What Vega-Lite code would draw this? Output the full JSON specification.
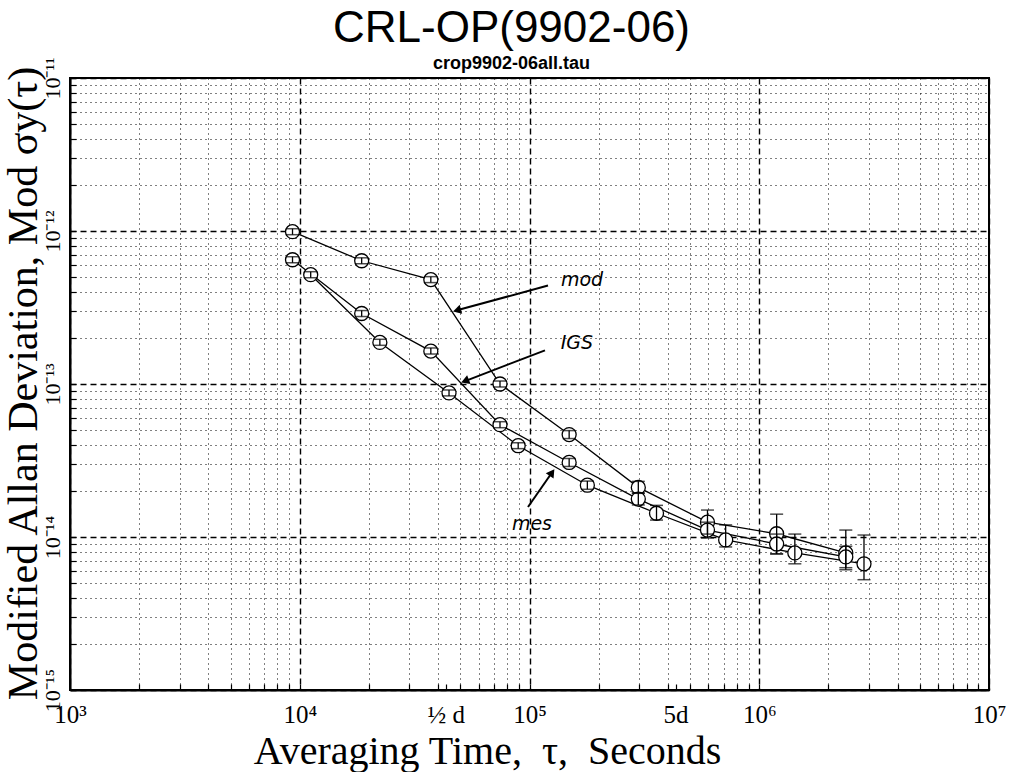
{
  "$schema": "https://vega.github.io/schema/vega-lite/v6.json",
  "width": 919,
  "height": 612,
  "autosize": {"type": "none"},
  "padding": {"left": 70, "top": 78, "right": 23, "bottom": 82},
  "background": "white",
  "title": {
    "text": "CRL-OP(9902-06)",
    "subtitle": "crop9902-06all.tau",
    "anchor": "middle",
    "font": "Liberation Sans",
    "fontSize": 44,
    "fontWeight": "normal",
    "color": "black",
    "subtitleFont": "Liberation Sans",
    "subtitleFontSize": 18,
    "subtitleFontWeight": "bold",
    "subtitleColor": "black",
    "subtitlePadding": 4,
    "offset": -16,
    "dx": -18
  },
  "config": {
    "view": {"stroke": "black", "strokeWidth": 2},
    "font": "Liberation Serif"
  },
  "datasets": {
    "pts": [
      {"series": "mod", "tau": 9300, "sigma": 9.9e-13, "lo": 9.46e-13, "hi": 1.035e-12},
      {"series": "mod", "tau": 18600, "sigma": 6.39e-13, "lo": 6.11e-13, "hi": 6.68e-13},
      {"series": "mod", "tau": 37200, "sigma": 4.81e-13, "lo": 4.6e-13, "hi": 5.03e-13},
      {"series": "mod", "tau": 74400, "sigma": 1.0e-13, "lo": 9.56e-14, "hi": 1.046e-13},
      {"series": "mod", "tau": 148800, "sigma": 4.67e-14, "lo": 4.4e-14, "hi": 4.96e-14},
      {"series": "mod", "tau": 297600, "sigma": 2.11e-14, "lo": 1.93e-14, "hi": 2.31e-14},
      {"series": "mod", "tau": 595200, "sigma": 1.25e-14, "lo": 1.045e-14, "hi": 1.5e-14},
      {"series": "mod", "tau": 1190400, "sigma": 1.05e-14, "lo": 7.76e-15, "hi": 1.41e-14},
      {"series": "mod", "tau": 2380800, "sigma": 7.87e-15, "lo": 6.11e-15, "hi": 1.11e-14},
      {"series": "IGS", "tau": 9300, "sigma": 6.49e-13, "lo": 6.2e-13, "hi": 6.79e-13},
      {"series": "IGS", "tau": 18600, "sigma": 2.89e-13, "lo": 2.76e-13, "hi": 3.02e-13},
      {"series": "IGS", "tau": 37200, "sigma": 1.64e-13, "lo": 1.57e-13, "hi": 1.72e-13},
      {"series": "IGS", "tau": 74400, "sigma": 5.42e-14, "lo": 5.18e-14, "hi": 5.67e-14},
      {"series": "IGS", "tau": 148800, "sigma": 3.07e-14, "lo": 2.89e-14, "hi": 3.26e-14},
      {"series": "IGS", "tau": 297600, "sigma": 1.77e-14, "lo": 1.62e-14, "hi": 1.94e-14},
      {"series": "IGS", "tau": 595200, "sigma": 1.11e-14, "lo": 9.85e-15, "hi": 1.25e-14},
      {"series": "IGS", "tau": 1190400, "sigma": 9.0e-15, "lo": 7.75e-15, "hi": 1.045e-14},
      {"series": "IGS", "tau": 2380800, "sigma": 7.41e-15, "lo": 6.3e-15, "hi": 8.7e-15},
      {"series": "mes", "tau": 11160, "sigma": 5.18e-13, "lo": 4.95e-13, "hi": 5.42e-13},
      {"series": "mes", "tau": 22320, "sigma": 1.87e-13, "lo": 1.79e-13, "hi": 1.96e-13},
      {"series": "mes", "tau": 44640, "sigma": 8.74e-14, "lo": 8.36e-14, "hi": 9.14e-14},
      {"series": "mes", "tau": 89280, "sigma": 3.95e-14, "lo": 3.78e-14, "hi": 4.13e-14},
      {"series": "mes", "tau": 178560, "sigma": 2.18e-14, "lo": 2.05e-14, "hi": 2.32e-14},
      {"series": "mes", "tau": 357120, "sigma": 1.43e-14, "lo": 1.29e-14, "hi": 1.61e-14},
      {"series": "mes", "tau": 714240, "sigma": 9.57e-15, "lo": 8.61e-15, "hi": 1.2e-14},
      {"series": "mes", "tau": 1428480, "sigma": 7.87e-15, "lo": 6.68e-15, "hi": 1.045e-14},
      {"series": "mes", "tau": 2856960, "sigma": 6.68e-15, "lo": 5.26e-15, "hi": 1.03e-14}
    ],
    "notes": [
      {"label": "mod", "tx": 169200, "ty": 4.81e-13, "x1": 120400, "y1": 4.4e-13, "x2": 48340, "y2": 3.03e-13},
      {"label": "IGS", "tx": 160900, "ty": 1.85e-13, "x1": 116800, "y1": 1.66e-13, "x2": 52400, "y2": 1.045e-13},
      {"label": "mes", "tx": 102500, "ty": 1.21e-14, "x1": 98500, "y1": 1.57e-14, "x2": 125300, "y2": 2.64e-14}
    ]
  },
  "layer": [
    {
      "data": {"name": "pts"},
      "mark": {"type": "line", "color": "black", "strokeWidth": 1.3},
      "encoding": {
        "x": {
          "field": "tau", "type": "quantitative",
          "scale": {"type": "log", "domain": [1000, 10000000], "nice": false},
          "axis": {
            "title": "Averaging Time,\u2002τ,\u2002Seconds",
            "titleFont": "Liberation Serif",
            "titleFontSize": 40,
            "titleFontWeight": "normal",
            "titleColor": "black",
            "titleX": 417,
            "titleY": 73,
            "titleAlign": "center",
            "titleBaseline": "alphabetic",
            "values": [1000, 2000, 3000, 4000, 5000, 6000, 7000, 8000, 9000, 10000, 20000, 30000, 40000, 43200, 50000, 60000, 70000, 80000, 90000, 100000, 200000, 300000, 400000, 432000, 500000, 600000, 700000, 800000, 900000, 1000000, 2000000, 3000000, 4000000, 5000000, 6000000, 7000000, 8000000, 9000000, 10000000],
            "labelExpr": "datum.value == 43200 ? '½ d' : datum.value == 432000 ? '5d' : (abs(log(datum.value)/LN10 - round(log(datum.value)/LN10)) < 1e-6 ? '10' + ['⁰','¹','²','³','⁴','⁵','⁶','⁷','⁸','⁹'][round(log(datum.value)/LN10)] : '')",
            "labelFont": "Liberation Serif",
            "labelFontSize": 25,
            "labelColor": "black",
            "labelPadding": 18,
            "labelOverlap": false,
            "labelFlush": false,
            "domainColor": "black",
            "domainWidth": 2,
            "tickColor": "black",
            "tickWidth": 1.2,
            "tickSize": -6,
            "grid": true,
            "gridColor": "black",
            "gridOpacity": {"condition": {"test": "datum.value == 43200 || datum.value == 432000", "value": 0}, "value": 1},
            "gridDash": {"condition": {"test": "abs(log(datum.value)/LN10 - round(log(datum.value)/LN10)) < 1e-6", "value": [6, 4]}, "value": [1, 4]},
            "gridWidth": {"condition": {"test": "abs(log(datum.value)/LN10 - round(log(datum.value)/LN10)) < 1e-6", "value": 1.4}, "value": 1}
          }
        },
        "y": {
          "field": "sigma", "type": "quantitative",
          "scale": {"type": "log", "domain": [1e-15, 1e-11], "nice": false},
          "axis": {
            "title": "Modified Allan Deviation, Mod σy(τ)",
            "titleFont": "Liberation Serif",
            "titleFontSize": 42,
            "titleFontWeight": "normal",
            "titleColor": "black",
            "titleAngle": 270,
            "titleX": -47,
            "titleY": 305,
            "titleAlign": "center",
            "titleBaseline": "middle",
            "values": [1e-15, 2e-15, 3e-15, 4e-15, 5e-15, 6e-15, 7e-15, 8e-15, 9e-15, 1e-14, 2e-14, 3e-14, 4e-14, 5e-14, 6e-14, 7e-14, 8e-14, 9e-14, 1e-13, 2e-13, 3e-13, 4e-13, 5e-13, 6e-13, 7e-13, 8e-13, 9e-13, 1e-12, 2e-12, 3e-12, 4e-12, 5e-12, 6e-12, 7e-12, 8e-12, 9e-12, 1e-11],
            "labelExpr": "abs(log(datum.value)/LN10 - round(log(datum.value)/LN10)) < 1e-6 ? '10⁻¹' + ['⁰','¹','²','³','⁴','⁵'][-round(log(datum.value)/LN10) - 10] : ''",
            "labelFont": "Liberation Serif",
            "labelFontSize": 22,
            "labelColor": "black",
            "labelAngle": 270,
            "labelAlign": "center",
            "labelBaseline": "bottom",
            "labelPadding": 12,
            "labelOverlap": false,
            "labelFlush": false,
            "domainColor": "black",
            "domainWidth": 2,
            "tickColor": "black",
            "tickWidth": 1.2,
            "tickSize": -6,
            "grid": true,
            "gridColor": "black",
            "gridDash": {"condition": {"test": "abs(log(datum.value)/LN10 - round(log(datum.value)/LN10)) < 1e-6", "value": [6, 4]}, "value": [1, 4]},
            "gridWidth": {"condition": {"test": "abs(log(datum.value)/LN10 - round(log(datum.value)/LN10)) < 1e-6", "value": 1.4}, "value": 1}
          }
        },
        "detail": {"field": "series"},
        "order": {"field": "tau", "type": "quantitative"}
      }
    },
    {
      "data": {"name": "pts"},
      "mark": {"type": "point", "shape": "circle", "filled": true, "fill": "white", "stroke": "black", "strokeWidth": 1.3, "size": 196, "opacity": 1},
      "encoding": {
        "x": {"field": "tau", "type": "quantitative"},
        "y": {"field": "sigma", "type": "quantitative"}
      }
    },
    {
      "data": {"name": "pts"},
      "mark": {"type": "rule", "color": "black", "strokeWidth": 1.3},
      "encoding": {
        "x": {"field": "tau", "type": "quantitative"},
        "y": {"field": "lo", "type": "quantitative"},
        "y2": {"field": "hi"}
      }
    },
    {
      "data": {"name": "pts"},
      "mark": {"type": "tick", "orient": "horizontal", "color": "black", "thickness": 1.5, "size": 13},
      "encoding": {
        "x": {"field": "tau", "type": "quantitative"},
        "y": {"field": "lo", "type": "quantitative"}
      }
    },
    {
      "data": {"name": "pts"},
      "mark": {"type": "tick", "orient": "horizontal", "color": "black", "thickness": 1.5, "size": 13},
      "encoding": {
        "x": {"field": "tau", "type": "quantitative"},
        "y": {"field": "hi", "type": "quantitative"}
      }
    },
    {
      "data": {"name": "notes"},
      "mark": {"type": "rule", "color": "black", "strokeWidth": 2},
      "encoding": {
        "x": {"field": "x1", "type": "quantitative"},
        "y": {"field": "y1", "type": "quantitative"},
        "x2": {"field": "x2"},
        "y2": {"field": "y2"}
      }
    },
    {
      "data": {"name": "notes"},
      "mark": {"type": "text", "font": "DejaVu Sans", "fontStyle": "italic", "fontSize": 19, "color": "black", "align": "center", "baseline": "middle"},
      "encoding": {
        "x": {"field": "tx", "type": "quantitative"},
        "y": {"field": "ty", "type": "quantitative"},
        "text": {"field": "label"}
      }
    },
    {
      "data": {"name": "notes"},
      "transform": [{"filter": "datum.label == 'mod'"}],
      "mark": {"type": "point", "shape": "triangle-up", "filled": true, "color": "black", "size": 90, "angle": 255, "opacity": 1},
      "encoding": {
        "x": {"field": "x2", "type": "quantitative"},
        "y": {"field": "y2", "type": "quantitative"}
      }
    },
    {
      "data": {"name": "notes"},
      "transform": [{"filter": "datum.label == 'IGS'"}],
      "mark": {"type": "point", "shape": "triangle-up", "filled": true, "color": "black", "size": 90, "angle": 249, "opacity": 1},
      "encoding": {
        "x": {"field": "x2", "type": "quantitative"},
        "y": {"field": "y2", "type": "quantitative"}
      }
    },
    {
      "data": {"name": "notes"},
      "transform": [{"filter": "datum.label == 'mes'"}],
      "mark": {"type": "point", "shape": "triangle-up", "filled": true, "color": "black", "size": 90, "angle": 35, "opacity": 1},
      "encoding": {
        "x": {"field": "x2", "type": "quantitative"},
        "y": {"field": "y2", "type": "quantitative"}
      }
    }
  ]
}
